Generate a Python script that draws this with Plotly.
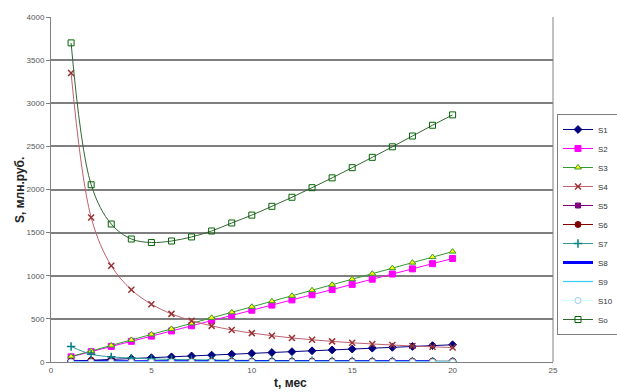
import plotly.graph_objects as go

t = list(range(1, 21))
t8 = list(range(1, 20))

S1 = [10, 20, 30, 40, 50, 60, 70, 80, 90, 100, 110, 120, 130, 140, 150, 160, 170, 180, 190, 200]
S2 = [60, 120, 180, 240, 300, 360, 420, 480, 540, 600, 660, 720, 780, 840, 900, 960, 1020, 1080, 1140, 1200]
S3 = [64, 128, 192, 256, 320, 384, 448, 512, 576, 640, 704, 768, 832, 896, 960, 1024, 1088, 1152, 1216, 1280]
S4 = [3350, 1675, 1117, 838, 670, 558, 479, 419, 372, 335, 305, 279, 258, 239, 223, 209, 197, 186, 176, 168]
S5 = [5, 5, 5, 5, 5, 5, 5, 5, 5, 5, 5, 5, 5, 5, 5, 5, 5, 5, 5, 5]
S6 = [8, 20, 8, 8, 8, 8, 8, 8, 8, 8, 8, 8, 8, 8, 8, 8, 8, 8, 8, 8]
S7 = [180, 90, 60, 45, 36, 30, 26, 23, 20, 18, 16, 15, 14, 13, 12, 11, 11, 10, 9, 9]
S8 = [2, 2, 2, 2, 2, 2, 2, 2, 2, 2, 2, 2, 2, 2, 2, 2, 2, 2, 2]
S9 = [1, 1, 1, 1, 1, 1, 1, 1, 1, 1, 1, 1, 1, 1, 1, 1, 1, 1, 1, 1]
S10 = [0, 0, 0, 0, 0, 0, 0, 0, 0, 0, 0, 0, 0, 0, 0, 0, 0, 0, 0, 0]
So = [3700, 2055, 1600, 1426, 1385, 1403, 1450, 1519, 1612, 1703, 1805, 1910, 2021, 2135, 2253, 2373, 2495, 2620, 2745, 2865]

x_ticks = [0, 5, 10, 15, 20, 25]
y_ticks = [0, 500, 1000, 1500, 2000, 2500, 3000, 3500, 4000]

fig = go.Figure()

def add(name, x, y, lc, lw=1, sym=None, mc=None, mfill=None, ms=5, shape="linear", mlw=1):
    mode = "lines+markers" if sym else "lines"
    marker = None
    if sym:
        marker = dict(symbol=sym, size=ms, color=mfill if mfill else mc,
                      line=dict(color=mc, width=mlw))
    fig.add_trace(go.Scatter(x=x, y=y, name=name, mode=mode,
                             line=dict(color=lc, width=lw, shape=shape),
                             marker=marker))

add("S1", t, S1, "#000080", sym="diamond", mc="#000080", ms=6)
add("S2", t, S2, "#FF00FF", sym="square", mc="#FF00FF", ms=6)
add("S3", t, S3, "#339933", sym="triangle-up", mc="#339933", mfill="#FFFF00", ms=6)
add("S4", t, S4, "#C06070", sym="x-thin", mc="#993333", ms=6, shape="spline", mlw=1.5)
add("S5", t, S5, "#800080", sym="square", mc="#800080", ms=5)
add("S6", t, S6, "#800000", sym="circle", mc="#800000", ms=6)
add("S7", t, S7, "#339999", sym="cross-thin", mc="#008080", ms=6, shape="spline", mlw=1.5)
add("S8", t8, S8, "#0000FF", lw=3)
add("S9", t, S9, "#33CCFF", lw=1.2)
add("S10", t, S10, "#CCFFFF", sym="circle", mc="#99CCEE", mfill="#FFFFFF", ms=6)
add("So", t, So, "#336633", sym="square-open", mc="#006600", ms=6, shape="spline")

font = "Liberation Sans, Arial, sans-serif"

fig.update_layout(
    width=617, height=392,
    margin=dict(l=51, r=64, t=17, b=30, autoexpand=False),
    paper_bgcolor="white", plot_bgcolor="white",
    font=dict(family=font, size=8, color="#333333"),
    showlegend=True,
    legend=dict(x=(557 - 51) / 502, y=(362 - 114) / 345, xanchor="left", yanchor="top",
                bordercolor="#808080", borderwidth=1, bgcolor="white",
                font=dict(size=8, color="#333333"),
                tracegroupgap=0, itemwidth=30),
    xaxis=dict(range=[0, 25], tickvals=x_ticks, showgrid=False,
               showline=True, linecolor="#808080", linewidth=1,
               ticks="outside", ticklen=0, tickfont=dict(size=8, color="#555555"),
               zeroline=False, mirror=False),
    yaxis=dict(range=[0, 4000], tickvals=y_ticks, showgrid=True,
               gridcolor="#7f7f7f", gridwidth=1.5,
               showline=True, linecolor="#808080", linewidth=1,
               ticks="outside", ticklen=4, tickcolor="#808080",
               tickfont=dict(size=8, color="#555555"),
               zeroline=False),
)

fig.add_annotation(text="<b>t, мес</b>", xref="paper", yref="paper",
                   x=(290 - 51) / 502, y=-(383 - 362) / 345, showarrow=False,
                   font=dict(family=font, size=12, color="#222222"),
                   xanchor="center", yanchor="middle")
fig.add_annotation(text="<b>S, млн.руб.</b>", xref="paper", yref="paper",
                   x=-(51 - 20) / 502, y=(362 - 190) / 345, showarrow=False,
                   textangle=-90,
                   font=dict(family=font, size=12, color="#222222"),
                   xanchor="center", yanchor="middle")
# right border of plot area
fig.add_shape(type="line", xref="paper", yref="paper", x0=1, x1=1, y0=0, y1=1,
              line=dict(color="#808080", width=1))

fig.write_html("out.html")
